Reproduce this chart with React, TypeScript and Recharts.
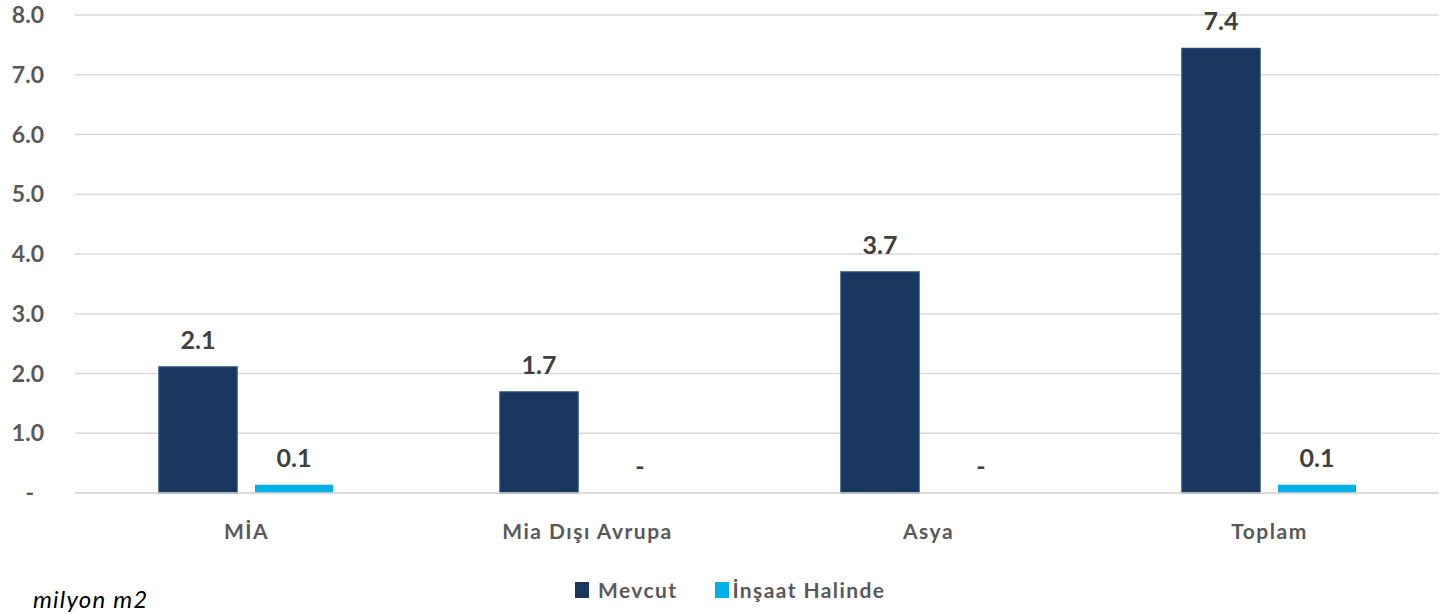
import React from 'react';
import { BarChart, Bar, XAxis, YAxis, CartesianGrid, Legend, LabelList } from 'recharts';

const categories = ['MİA', 'Mia Dışı Avrupa', 'Asya', 'Toplam'];
const mevcutValues = [2.11, 1.69, 3.7, 7.44];
const insaatValues = [0.14, 0, 0, 0.14];
const yTicks = [0, 1, 2, 3, 4, 5, 6, 7, 8];
const seriesNames = ['Mevcut', 'İnşaat Halinde'];
const seriesColors = ['#17375E', '#00B0E6'];
const unitLabel = 'milyon m2';

const data = categories.map((c, i) => ({ name: c, mevcut: mevcutValues[i], insaat: insaatValues[i] }));

const FONT = 'Lato, "Open Sans", sans-serif';
const BAR_SIZE = 78;
const BAR_GAP = 18;

const fmt = (v: number) => (v === 0 ? '-' : v.toFixed(1));

const YTick = (props: any) => {
  const { x, y, payload } = props;
  const v = payload.value as number;
  return (
    <text
      x={v === 0 ? x - 10 : x}
      y={y}
      dy="0.35em"
      textAnchor="end"
      fill="#595959"
      fontFamily={FONT}
      fontWeight={700}
      fontSize={23}
    >
      {fmt(v)}
    </text>
  );
};

const XTick = (props: any) => {
  const { x, y, payload } = props;
  return (
    <text x={x + 1} y={y + 31} dy="0.35em" textAnchor="middle" fill="#595959" fontFamily={FONT} fontWeight={700} fontSize={21} letterSpacing={1.5}>
      {payload.value}
    </text>
  );
};

const labelText = (cx: number, top: number, v: number, key?: string) => (
  <text
    key={key}
    x={cx + (v === 0 ? 5 : 0)}
    y={top - 18}
    textAnchor="middle"
    fill="#404040"
    fontFamily={FONT}
    fontWeight={700}
    fontSize={25}
  >
    {fmt(v)}
  </text>
);

// Mevcut labels; also draws the "-" for a zero İnşaat value in the same group
// (zero-height bars get no label entry), placed from the library's bar geometry.
const MevcutLabel = (props: any) => {
  const { x, y, width, height, value, index } = props;
  const partner = insaatValues[index];
  return (
    <g>
      {labelText(x + width / 2, y, value as number)}
      {partner === 0 ? labelText(x + width + BAR_GAP + width / 2, y + height, 0) : null}
    </g>
  );
};

const InsaatLabel = (props: any) => {
  const { x, y, width, value } = props;
  if (value === 0) return null;
  return labelText(x + width / 2, y, value as number);
};

const LegendContent = () => (
  <div style={{ display: 'flex', alignItems: 'center', paddingLeft: 575, fontFamily: FONT, fontWeight: 700, fontSize: 21, color: '#595959', letterSpacing: 1.4 }}>
    {seriesNames.map((n, i) => (
      <div key={n} style={{ display: 'flex', alignItems: 'center', marginRight: i === 0 ? 38 : 0 }}>
        <div style={{ width: 14, height: 16, background: seriesColors[i], marginRight: i === 0 ? 9 : 3 }} />
        <span>{n}</span>
      </div>
    ))}
  </div>
);

export default function App() {
  return (
    <div style={{ position: 'absolute', left: 0, top: 0, width: 1450, height: 614, background: '#fff', overflow: 'hidden' }}>
      <BarChart
        width={1450}
        height={614}
        data={data}
        margin={{ top: 15, right: 11, left: 0, bottom: 0 }}
        barSize={BAR_SIZE}
        barGap={BAR_GAP}
      >
        <CartesianGrid horizontal vertical={false} stroke="#D9D9D9" strokeWidth={1.5} />
        <XAxis
          dataKey="name"
          height={121}
          axisLine={{ stroke: '#D9D9D9', strokeWidth: 1.5 }}
          tickLine={false}
          tick={<XTick />}
          interval={0}
        />
        <YAxis
          width={75}
          domain={[0, 8]}
          ticks={yTicks}
          axisLine={false}
          tickLine={false}
          tick={<YTick />}
          tickMargin={25}
        />
        <Legend
          layout="horizontal"
          verticalAlign="middle"
          align="center"
          content={<LegendContent />}
          wrapperStyle={{ top: 577, left: 0, width: 1450 }}
        />
        <Bar dataKey="mevcut" name={seriesNames[0]} fill={seriesColors[0]} stroke="#24497E" strokeWidth={1.5} isAnimationActive={false}>
          <LabelList dataKey="mevcut" content={<MevcutLabel />} />
        </Bar>
        <Bar dataKey="insaat" name={seriesNames[1]} fill={seriesColors[1]} isAnimationActive={false}>
          <LabelList dataKey="insaat" content={<InsaatLabel />} />
        </Bar>
      </BarChart>
      <div
        style={{
          position: 'absolute',
          left: 33,
          top: 586,
          fontFamily: FONT,
          fontStyle: 'italic',
          fontSize: 24,
          letterSpacing: 1.2,
          color: '#000',
          lineHeight: '26px',
          whiteSpace: 'nowrap',
        }}
      >
        {unitLabel}
      </div>
    </div>
  );
}
